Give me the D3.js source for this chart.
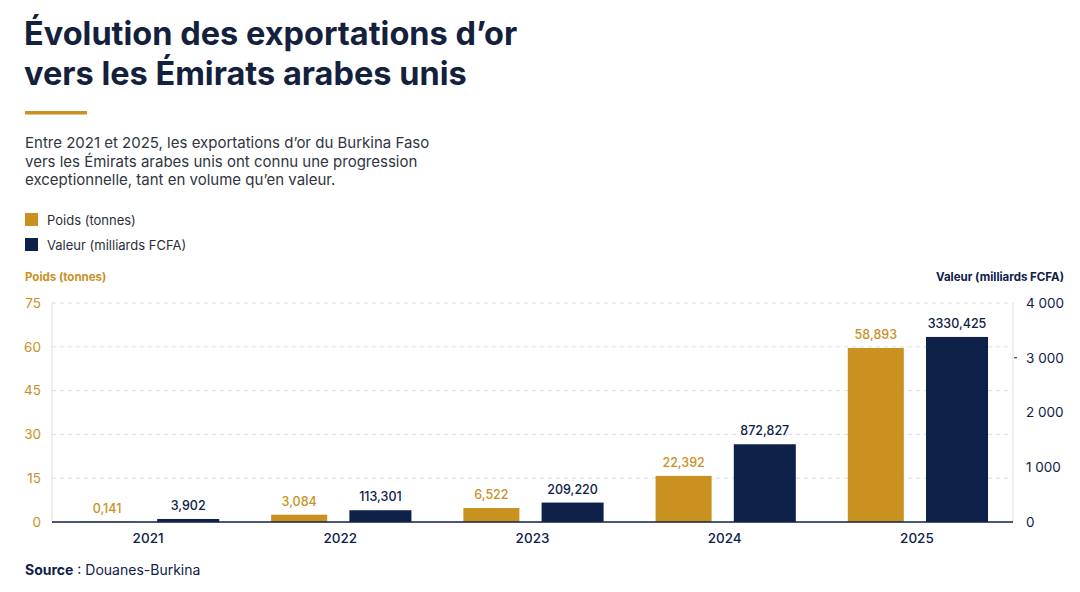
<!DOCTYPE html>
<html>
<head>
<meta charset="utf-8">
<script src="https://cdn.jsdelivr.net/npm/d3@7"></script>
<style>
  body { margin: 0; background: #fff; }
  svg { font-family: Inter, "Noto Sans", sans-serif; }
</style>
</head>
<body>
<svg width="1080" height="592"></svg>
<script>
// data
var annees = ["2021", "2022", "2023", "2024", "2025"];
// bar heights as drawn in the reference (axis units)
var poids = [0.141, 2.5, 4.8, 15.8, 59.6];
var valeur = [55, 215, 355, 1420, 3380];
// value labels as printed
var poidsLabels = ["0,141", "3,084", "6,522", "22,392", "58,893"];
var valeurLabels = ["3,902", "113,301", "209,220", "872,827", "3330,425"];
var ticksPoids = [0, 15, 30, 45, 60, 75];
var ticksValeur = [0, 1000, 2000, 3000, 4000];

var or = "#C9911F", marine = "#0E2148";

var svg = d3.select("svg");

// title
var titre = svg.append("text").attr("x", 24).attr("y", 45)
  .attr("fill", "#14213D").attr("font-size", 32.5).attr("font-weight", 700);
titre.append("tspan").attr("x", 24).text("Évolution des exportations d’or");
titre.append("tspan").attr("x", 24).attr("dy", 39.5).text("vers les Émirats arabes unis");

svg.append("rect").attr("x", 25).attr("y", 111).attr("width", 62).attr("height", 3.5).attr("fill", or);

var intro = ["Entre 2021 et 2025, les exportations d’or du Burkina Faso",
  "vers les Émirats arabes unis ont connu une progression",
  "exceptionnelle, tant en volume qu’en valeur."];
svg.append("g").selectAll("text").data(intro).enter().append("text")
  .attr("x", 25).attr("y", function(d, i) { return 148 + i * 18.5; })
  .attr("font-size", 15).attr("fill", "#30353f").text(function(d) { return d; });

// legend
var legende = [["Poids (tonnes)", or], ["Valeur (milliards FCFA)", marine]];
var lg = svg.append("g").selectAll("g").data(legende).enter().append("g")
  .attr("transform", function(d, i) { return "translate(25," + (213 + i * 25) + ")"; });
lg.append("rect").attr("width", 13).attr("height", 13).attr("fill", function(d) { return d[1]; });
lg.append("text").attr("x", 22).attr("y", 11.5).attr("font-size", 13).attr("fill", "#2a2f3a")
  .text(function(d) { return d[0]; });

// chart area
var x0 = 52, x1 = 1013, yBas = 522, yHaut = 303;

var x = d3.scaleBand().domain(annees).range([x0, x1]).paddingInner(0.26).paddingOuter(0.13);
var xs = d3.scaleBand().domain(["poids", "valeur"]).range([0, x.bandwidth()]).padding(0.27).paddingOuter(0);
var yP = d3.scaleLinear().domain([0, 75]).range([yBas, yHaut]);
var yV = d3.scaleLinear().domain([0, 4000]).range([yBas, yHaut]);

// axis titles
svg.append("text").attr("x", 25).attr("y", 281).attr("font-size", 11.5).attr("font-weight", 700)
  .attr("fill", or).text("Poids (tonnes)");
svg.append("text").attr("x", 1064).attr("y", 281).attr("text-anchor", "end").attr("font-size", 11.5)
  .attr("font-weight", 700).attr("fill", marine).text("Valeur (milliards FCFA)");

// grid
svg.append("g").selectAll("line").data(ticksPoids.filter(function(d) { return d > 0; })).enter().append("line")
  .attr("x1", x0).attr("x2", x1).attr("y1", function(d) { return yP(d); }).attr("y2", function(d) { return yP(d); })
  .attr("stroke", "#dcdde2").attr("stroke-dasharray", "4,4");
svg.append("line").attr("x1", x0).attr("x2", x0).attr("y1", yHaut).attr("y2", yBas).attr("stroke", "#dcdde2");
svg.append("line").attr("x1", x1).attr("x2", x1).attr("y1", yHaut).attr("y2", yBas).attr("stroke", "#dcdde2");

// left axis
var axeG = svg.append("g").attr("transform", "translate(41,0)")
  .call(d3.axisLeft(yP).tickValues(ticksPoids).tickSize(0).tickPadding(0));
axeG.select(".domain").remove();
axeG.selectAll("text").attr("font-size", 13.5).attr("fill", or).attr("font-family", "Inter, sans-serif");

// right axis
var fmt = function(d) { return d3.format(",")(d).replace(",", " "); };
var axeD = svg.append("g").attr("transform", "translate(1026,0)")
  .call(d3.axisRight(yV).tickValues(ticksValeur).tickFormat(fmt).tickSize(0).tickPadding(0));
axeD.select(".domain").remove();
axeD.selectAll("text").attr("font-size", 13.5).attr("fill", marine).attr("font-family", "Inter, sans-serif");
// the little mark left of 3 000
svg.append("line").attr("x1", 1014).attr("x2", 1017).attr("y1", yV(3000)).attr("y2", yV(3000))
  .attr("stroke", marine).attr("stroke-width", 1);

// bars
var groupes = svg.append("g").selectAll("g").data(annees).enter().append("g")
  .attr("transform", function(d) { return "translate(" + x(d) + ",0)"; });

groupes.append("rect")
  .attr("x", function() { return xs("poids") + 2; })
  .attr("width", xs.bandwidth() - 4)
  .attr("y", function(d, i) { return yP(poids[i]); })
  .attr("height", function(d, i) { return yBas - yP(poids[i]); })
  .attr("fill", or);
groupes.append("rect")
  .attr("x", xs("valeur") - 2)
  .attr("width", xs.bandwidth() + 2)
  .attr("y", function(d, i) { return yV(valeur[i]); })
  .attr("height", function(d, i) { return yBas - yV(valeur[i]); })
  .attr("fill", marine);

groupes.append("text")
  .attr("x", xs("poids") + xs.bandwidth() / 2)
  .attr("y", function(d, i) { return yP(poids[i]) - 9; })
  .attr("text-anchor", "middle").attr("font-size", 12.5).attr("font-weight", 500).attr("fill", or)
  .text(function(d, i) { return poidsLabels[i]; });
groupes.append("text")
  .attr("x", xs("valeur") - 1 + xs.bandwidth() / 2)
  .attr("y", function(d, i) { return yV(valeur[i]) - 9; })
  .attr("text-anchor", "middle").attr("font-size", 12.5).attr("font-weight", 500).attr("fill", marine)
  .text(function(d, i) { return valeurLabels[i]; });

// baseline + x axis
svg.append("line").attr("x1", x0).attr("x2", x1).attr("y1", yBas).attr("y2", yBas)
  .attr("stroke", marine).attr("stroke-width", 1.5);
var axeX = svg.append("g").attr("transform", "translate(0," + yBas + ")")
  .call(d3.axisBottom(x).tickSize(0).tickPadding(11));
axeX.select(".domain").remove();
axeX.selectAll("text").attr("font-size", 13.5).attr("font-weight", 500).attr("fill", marine)
  .attr("font-family", "Inter, sans-serif");

// source
var src = svg.append("text").attr("x", 25).attr("y", 575).attr("font-size", 14).attr("fill", marine);
src.append("tspan").attr("font-weight", 700).text("Source");
src.append("tspan").text(" : Douanes-Burkina");
</script>
</body>
</html>
